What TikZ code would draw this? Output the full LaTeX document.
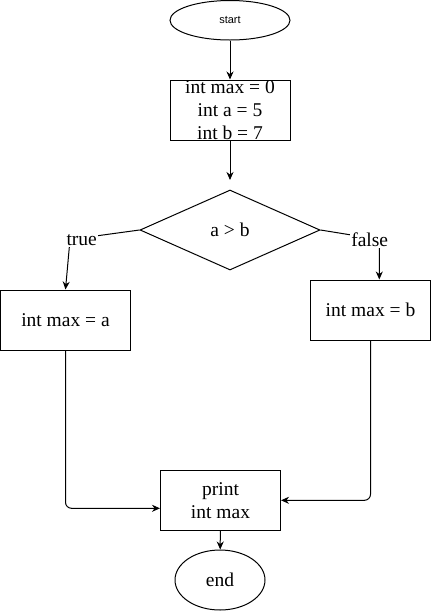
\documentclass[tikz,border=0pt]{standalone}
\usepackage{fontspec}
\setmainfont{Liberation Serif}
\newfontfamily\startfont{Liberation Sans}
\usetikzlibrary{shapes.geometric,arrows.meta}
\tikzset{
  base/.style={draw=black, line width=1pt, inner sep=0pt, font=\fontsize{19.5}{23.3}\selectfont, align=center},
  procbox/.style={base, rectangle, minimum width=120pt, minimum height=60pt},
  termnode/.style={base, ellipse},
  decnode/.style={base, diamond, minimum width=180pt, minimum height=80pt},
  lbl/.style={fill=white, inner sep=1pt, font=\fontsize{19.5}{23.3}\selectfont},
  arr/.style={line width=1pt, -{Stealth[length=8pt,width=7pt]}},
}
\begin{document}
\begin{tikzpicture}[x=1pt,y=-1pt]
\useasboundingbox[fill=white] (0,0) rectangle (431,611);
\node[termnode, minimum width=120pt, minimum height=39.5pt, font=\startfont\fontsize{11}{13}\selectfont] (start) at (230,20.25) {start};
\node[procbox] (init) at (230,110) {int max = 0\\int a = 5\\int b = 7};
\node[decnode] (dia) at (230,230) {a \textgreater{} b};
\node[procbox, minimum width=130pt] (ta) at (65.5,320) {int max = a};
\node[procbox] (tb) at (370.5,310) {int max = b};
\node[procbox] (pr) at (220.5,500.3) {print\\int max};
\node[termnode, minimum width=90pt, minimum height=60pt] (end) at (220,580) {end};
\coordinate (gap) at (230,180);
\coordinate (tw) at (70,239.5);
\coordinate (fw) at (379.3,239.5);

\draw[arr] (start) -- (init);
\draw[arr] (init) -- (gap);
\draw[arr] (dia.west) -- (tw) -- (ta.north);
\node[lbl] (tl) at (81.7,240) {true};
\draw[arr] (dia.east) -- (fw) -- (fw |- tb.north);
\node[lbl] (fl) at (369.7,240) {false};
\draw[arr, rounded corners=6pt] (ta.south) |- ([yshift=-8pt]pr.west);
\draw[arr, rounded corners=6pt] (tb.south) |- (pr.east);
\draw[arr] (pr) -- (end);
\end{tikzpicture}
\end{document}
